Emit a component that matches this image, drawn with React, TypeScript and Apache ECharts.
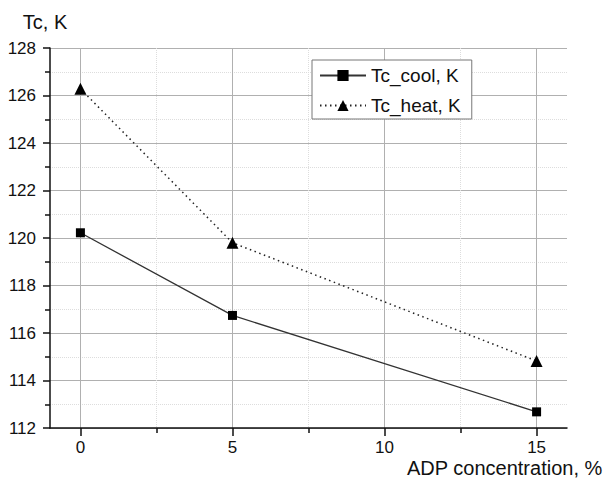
import React, { useEffect, useRef } from "react";
import * as echarts from "echarts";

const xValues = [0, 5, 15];
const coolValues = [120.22, 116.74, 112.68];
const heatValues = [126.28, 119.8, 114.82];
const xMajorTicks = [0, 5, 10, 15];
const xMinorTicks = [2.5, 7.5, 12.5];
const seriesNames = ["Tc_cool, K", "Tc_heat, K"];
const yTitle = "Tc, K";
const xTitle = "ADP concentration, %";

const FONT = "'Liberation Sans', Arial, sans-serif";

export default function App() {
  const ref = useRef<HTMLDivElement>(null);
  useEffect(() => {
    if (!ref.current) return;
    const chart = echarts.init(ref.current, null, { renderer: "svg" });
    const axisLineStyle = { color: "#111", width: 1.5 };
    chart.setOption({
      animation: false,
      backgroundColor: "#fff",
      textStyle: { fontFamily: FONT },
      grid: { left: 50, right: 42, top: 48, bottom: 51, containLabel: false, outerBoundsMode: "none" },
      graphic: [
        {
          type: "text",
          left: 407,
          top: 458,
          style: { text: xTitle, fontFamily: FONT, fontSize: 20, fill: "#111" },
        },
      ],
      legend: {
        orient: "vertical",
        left: 312,
        top: 60,
        selectedMode: false,
        backgroundColor: "#fff",
        borderColor: "#777",
        borderWidth: 1,
        borderRadius: 0,
        padding: [6, 11, 4, 7],
        itemWidth: 46,
        itemHeight: 14,
        itemGap: 11,
        textStyle: { fontFamily: FONT, fontSize: 19, color: "#111" },
        data: seriesNames,
      },
      xAxis: [
        {
          type: "value",
          min: -1,
          max: 16,
          position: "bottom",
          axisLine: { show: true, onZero: false, lineStyle: axisLineStyle },
          axisTick: { show: true, customValues: xMajorTicks, length: 8, lineStyle: axisLineStyle },
          axisLabel: { customValues: xMajorTicks, fontFamily: FONT, fontSize: 17, color: "#111", margin: 11 },
          splitLine: { show: true, lineStyle: { color: "#b0b0b0", width: 1 } },
        },
        {
          type: "value",
          min: -1,
          max: 16,
          position: "bottom",
          axisLine: { show: false, onZero: false },
          axisTick: { show: true, customValues: xMinorTicks, length: 5, lineStyle: axisLineStyle },
          axisLabel: { show: false },
          splitLine: { show: true, lineStyle: { color: "#ddd", width: 1, type: "dotted" } },
        },
      ],
      yAxis: {
        type: "value",
        min: 112,
        max: 128,
        interval: 2,
        name: yTitle,
        nameLocation: "end",
        nameGap: 16,
        nameTextStyle: {
          fontFamily: FONT,
          fontSize: 20,
          color: "#111",
          align: "center",
          padding: [0, 10, 0, 0],
        },
        axisLine: { show: true, onZero: false, lineStyle: axisLineStyle },
        axisTick: { show: true, length: 7, lineStyle: axisLineStyle },
        minorTick: { show: true, splitNumber: 2, length: 5, lineStyle: axisLineStyle },
        axisLabel: { fontFamily: FONT, fontSize: 17, color: "#111", margin: 14 },
        splitLine: { show: true, lineStyle: { color: "#b0b0b0", width: 1 } },
        minorSplitLine: { show: true, lineStyle: { color: "#ddd", width: 1, type: "dotted" } },
      },
      series: [
        {
          name: seriesNames[0],
          type: "line",
          xAxisIndex: 0,
          data: xValues.map((x, i) => [x, coolValues[i]]),
          symbol: "rect",
          symbolSize: 9,
          itemStyle: { color: "#000" },
          lineStyle: { color: "#333", width: 1.3, type: "solid" },
        },
        {
          name: seriesNames[1],
          type: "line",
          xAxisIndex: 0,
          data: xValues.map((x, i) => [x, heatValues[i]]),
          symbol: "triangle",
          symbolSize: 12,
          itemStyle: { color: "#000" },
          lineStyle: { color: "#222", width: 1.5, type: [1.5, 3.5] },
        },
      ],
    });
    return () => chart.dispose();
  }, []);
  return (
    <div
      ref={ref}
      style={{ position: "absolute", left: 0, top: 0, width: 609, height: 479 }}
    />
  );
}
